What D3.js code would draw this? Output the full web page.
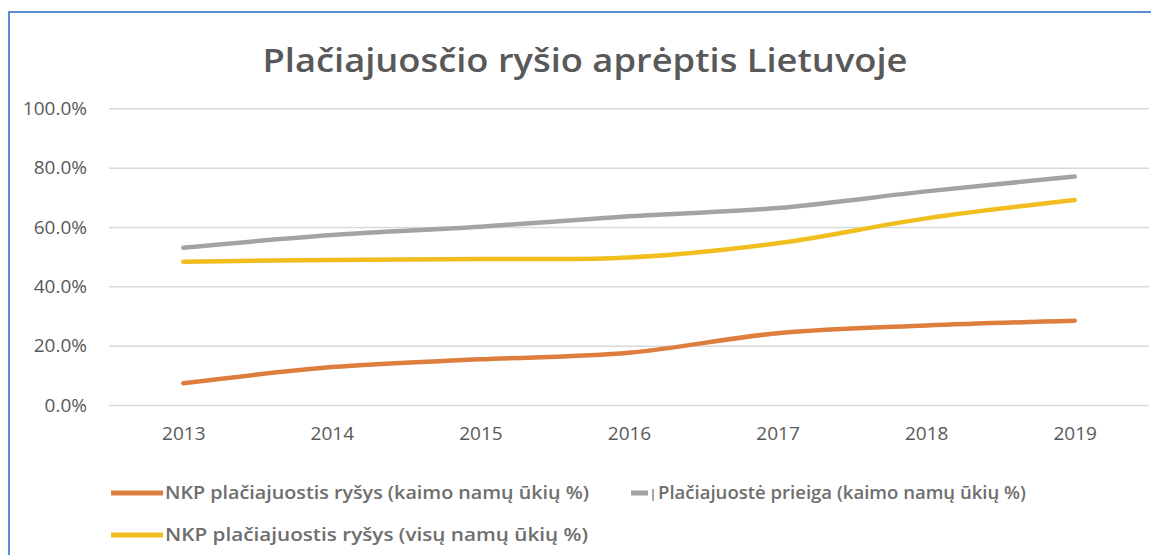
<!DOCTYPE html>
<html>
<head>
<meta charset="utf-8">
<script src="https://cdn.jsdelivr.net/npm/d3@7"></script>
<style>
    html, body { margin: 0; padding: 0; background: #fff; }
    #chart { width: 1151px; height: 555px; }
    text { font-family: "Open Sans", "DejaVu Sans", sans-serif; }
</style>
</head>
<body>
<div id="chart"></div>
<script>
//Datos del gráfico
const YEARS = ['2013','2014','2015','2016','2017','2018','2019'];
const NKP_KAIMO = [7.3, 12.8, 15.4, 17.6, 24.2, 26.8, 28.4];
const PRIEIGA_KAIMO = [53.0, 57.3, 60.1, 63.6, 66.4, 72.0, 77.0];
const NKP_VISU = [48.3, 48.9, 49.2, 49.7, 54.5, 62.9, 69.1];
const Y_TICKS = [0, 20, 40, 60, 80, 100];
const TITLE = 'Plačiajuosčio ryšio aprėptis Lietuvoje';
const SERIES_NAMES = [
    'NKP plačiajuostis ryšys (kaimo namų ūkių %)',
    'Plačiajuostė prieiga (kaimo namų ūkių %)',
    'NKP plačiajuostis ryšys (visų namų ūkių %)'
];

const COLOR_ORANGE = '#DD7E3E',
COLOR_GREY = '#A3A3A3',
COLOR_YELLOW = '#F0BE1E',
COLOR_TEXT = '#595959',
COLOR_GRID = '#D9D9D9',
COLOR_FRAME = '#5B8BD3';

let series = [
    { name: SERIES_NAMES[0], values: NKP_KAIMO, color: COLOR_ORANGE },
    { name: SERIES_NAMES[1], values: PRIEIGA_KAIMO, color: COLOR_GREY },
    { name: SERIES_NAMES[2], values: NKP_VISU, color: COLOR_YELLOW }
];

let width = 1151, height = 555;
let margin = {top: 108, right: 2, bottom: 150, left: 109};

let svg = d3.select('#chart')
    .append('svg')
        .attr('width', width)
        .attr('height', height);

//Marco azul
svg.append('path')
    .attr('d', 'M9,' + (height + 5) + 'V12H' + (width + 5))
    .attr('fill', 'none')
    .attr('stroke', COLOR_FRAME)
    .attr('stroke-width', 2);

//Título
svg.append('text')
    .attr('x', 585)
    .attr('y', 72)
    .attr('text-anchor', 'middle')
    .attr('fill', COLOR_TEXT)
    .style('font-size', '32px')
    .style('font-weight', 600)
    .attr('textLength', 645)
    .attr('lengthAdjust', 'spacingAndGlyphs')
    .text(TITLE);

let x = d3.scalePoint()
    .domain(YEARS)
    .range([margin.left, width - margin.right])
    .padding(0.5);

let y = d3.scaleLinear()
    .domain([0, 100])
    .range([405, 108.3]);

//Eje Y con líneas de rejilla
let yAxis = function(g) {
    g.call(d3.axisLeft(y).tickValues(Y_TICKS).tickSize(-(width - margin.right - margin.left)).tickPadding(22).tickFormat(function(d) { return d.toFixed(1) + '%'; }));
    g.call(function(g) {
        g.select('.domain').remove();
        g.selectAll('.tick line').attr('stroke', COLOR_GRID).attr('stroke-width', 1.5);
        g.selectAll('.tick text')
            .attr('fill', COLOR_TEXT)
            .style('font-size', '19px')
            .style('font-family', '"Open Sans", sans-serif');
    });
}

svg.append('g')
    .attr('transform', 'translate(' + margin.left + ',0)')
    .call(yAxis);

//Eje X
let xAxis = function(g) {
    g.call(d3.axisBottom(x).tickSize(0).tickPadding(22));
    g.call(function(g) {
        g.select('.domain').remove();
        g.selectAll('.tick text')
            .attr('fill', COLOR_TEXT)
            .style('font-size', '19px')
            .style('font-family', '"Open Sans", sans-serif');
    });
}

svg.append('g')
    .attr('transform', 'translate(0,' + y(0) + ')')
    .call(xAxis);

//Líneas
let line = d3.line()
    .x(function(d, i) { return x(YEARS[i]); })
    .y(function(d) { return y(d); })
    .curve(d3.curveCatmullRom.alpha(0.5));

svg.append('g')
    .selectAll('path')
    .data(series)
    .enter()
    .append('path')
    .attr('d', function(d) { return line(d.values); })
    .attr('fill', 'none')
    .attr('stroke', function(d) { return d.color; })
    .attr('stroke-width', 4.5)
    .attr('stroke-linecap', 'round');

//Leyenda
let legendItems = [
    { s: series[0], x: 111, y: 493, w: 52, textW: 424 },
    { s: series[1], x: 631, y: 493, w: 17, textW: 368 },
    { s: series[2], x: 111, y: 535, w: 52, textW: 423 }
];

let legend = svg.append('g')
    .selectAll('g')
    .data(legendItems)
    .enter()
    .append('g')
    .attr('transform', function(d) { return 'translate(' + d.x + ',' + d.y + ')'; });

legend.append('line')
    .attr('x1', 0)
    .attr('x2', function(d) { return d.w; })
    .attr('stroke', function(d) { return d.s.color; })
    .attr('stroke-width', 5);

legend.append('text')
    .attr('x', function(d) { return d.w + (d.w < 30 ? 10 : 2); })
    .attr('y', 6)
    .attr('fill', '#6E6E6E')
    .style('font-size', '18px')
    .style('font-weight', 600)
    .attr('textLength', function(d) { return d.textW; })
    .attr('lengthAdjust', 'spacingAndGlyphs')
    .text(function(d) { return d.s.name; });

//Pequeña marca vertical antes del texto gris
legend.filter(function(d) { return d.w < 30; })
    .append('line')
    .attr('x1', 22).attr('x2', 22)
    .attr('y1', -4).attr('y2', 8)
    .attr('stroke', '#8A8A8A')
    .attr('stroke-width', 1.5);
</script>
</body>
</html>
